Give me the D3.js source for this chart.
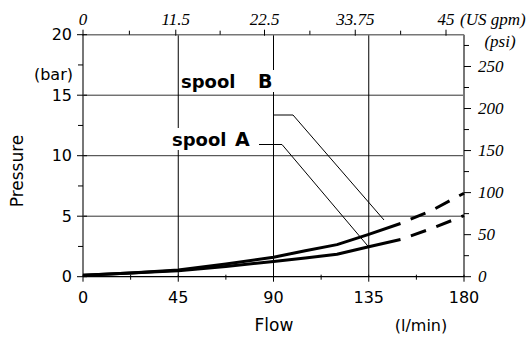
<!DOCTYPE html>
<html><head><meta charset="utf-8">
<script src="https://cdn.jsdelivr.net/npm/d3@7"></script>
<style>
body{margin:0;background:#fff;}
svg{display:block;}
.sans{font-family:"DejaVu Sans",Verdana,sans-serif;}
.ser{font-family:"Liberation Serif","Times New Roman",serif;font-style:italic;}
</style></head>
<body>
<svg id="c" width="532" height="338"></svg>
<script>
// ---- data ----
const flowTicks = [0, 45, 90, 135, 180];             // l/min
const flowMinor = [22.5, 67.5, 112.5, 157.5];
const barTicks = [0, 5, 10, 15, 20];
const barMinor = [2.5, 7.5, 12.5, 17.5];
const gpmTicks = [0, 11.5, 22.5, 33.75, 45];
const gpmMinor = [5.75, 17, 28.125, 39.375];
const psiTicks = [0, 50, 100, 150, 200, 250];
const psiMinor = [25, 75, 125, 175, 225, 275];
const flow   = [0, 22.5, 45, 67.5, 90, 105, 120, 135, 150, 165, 180];
const spoolA = [0.12, 0.3, 0.5, 0.85, 1.25, 1.55, 1.85, 2.48, 3.08, 4.0, 5.05];
const spoolB = [0.12, 0.3, 0.55, 1.05, 1.6, 2.15, 2.65, 3.5, 4.4, 5.5, 6.9];
const solidUntil = 150;

// ---- scales ----
const L = 83, R = 464, T = 34.7, B = 276.7;
const x = d3.scaleLinear([0, 180], [L, R]);
const y = d3.scaleLinear([0, 20], [B, T]);
const gpm = d3.scaleLinear([0, 45], [L, 446]);
const psi = d3.scaleLinear([0, 287.8], [B, T]);

const svg = d3.select("#c");

// gridlines
const grid = svg.append("g");
grid.selectAll(".hg").data([5, 10, 15]).join("line")
  .attr("x1", L).attr("x2", R).attr("y1", d => y(d)).attr("y2", d => y(d))
  .attr("stroke", "#333").attr("stroke-width", 1);
grid.selectAll(".vg").data([45, 90, 135]).join("line")
  .attr("x1", d => x(d)).attr("x2", d => x(d)).attr("y1", T).attr("y2", B)
  .attr("stroke", "#000").attr("stroke-width", 1);

// axes lines
svg.append("line").attr("x1", L).attr("x2", R).attr("y1", T).attr("y2", T).attr("stroke", "#777").attr("stroke-width", 1.5);
svg.append("line").attr("x1", L).attr("x2", L).attr("y1", T).attr("y2", B).attr("stroke", "#777").attr("stroke-width", 2);
svg.append("line").attr("x1", R).attr("x2", R).attr("y1", T).attr("y2", B).attr("stroke", "#777").attr("stroke-width", 2);
svg.append("line").attr("x1", L).attr("x2", R).attr("y1", B).attr("y2", B).attr("stroke", "#000").attr("stroke-width", 1.2);

function ticks(vals, f) {
  svg.append("g").selectAll("line").data(vals).join("line").each(function(d){
    const c = f(d); d3.select(this).attr("x1", c[0]).attr("y1", c[1]).attr("x2", c[2]).attr("y2", c[3]);
  }).attr("stroke", "#000").attr("stroke-width", 1);
}
// left
ticks(barTicks, d => [L - 6, y(d), L + 4, y(d)]);
ticks(barMinor, d => [L - 5, y(d), L, y(d)]);
// bottom
ticks(flowTicks, d => [x(d), B - 2, x(d), B + 5]);
ticks(flowMinor, d => [x(d), B - 2, x(d), B + 3]);
// top
ticks(gpmTicks, d => [gpm(d), T - 5, gpm(d), T + 1]);
ticks(gpmMinor, d => [gpm(d), T - 4, gpm(d), T]);
// right
ticks(psiTicks, d => [R, psi(d), R + 7, psi(d)]);
ticks(psiMinor, d => [R, psi(d), R + 5, psi(d)]);

// tick labels
svg.append("g").selectAll("text").data(barTicks).join("text").attr("class", "sans")
  .attr("x", 72).attr("y", d => y(d)).attr("dy", "0.36em").attr("text-anchor", "end")
  .attr("font-size", 16).text(d => d);
svg.append("g").selectAll("text").data(flowTicks).join("text").attr("class", "sans")
  .attr("x", d => x(d)).attr("y", 303).attr("text-anchor", "middle")
  .attr("font-size", 16).text(d => d);
svg.append("g").selectAll("text").data(gpmTicks).join("text").attr("class", "ser")
  .attr("x", d => gpm(d)).attr("y", 25).attr("text-anchor", "middle")
  .attr("font-size", 17).text(d => d);
svg.append("g").selectAll("text").data(psiTicks).join("text").attr("class", "ser")
  .attr("x", 478).attr("y", d => psi(d)).attr("dy", "0.34em")
  .attr("font-size", 17).text(d => d);

// axis titles
svg.append("text").attr("class", "ser").attr("x", 460).attr("y", 25).attr("font-size", 17).text("(US gpm)");
svg.append("text").attr("class", "ser").attr("x", 500).attr("y", 47).attr("text-anchor", "middle").attr("font-size", 17).text("(psi)");
svg.append("text").attr("class", "sans").attr("x", 73).attr("y", 80).attr("text-anchor", "end").attr("font-size", 16).text("(bar)");
svg.append("text").attr("class", "sans").attr("transform", "translate(23,171) rotate(-90)").attr("text-anchor", "middle").attr("font-size", 17).text("Pressure");
svg.append("text").attr("class", "sans").attr("x", 274).attr("y", 331).attr("text-anchor", "middle").attr("font-size", 17).text("Flow");
svg.append("text").attr("class", "sans").attr("x", 421).attr("y", 331).attr("text-anchor", "middle").attr("font-size", 16).text("(l/min)");

// curves
const line = d3.line().x(d => x(d[0])).y(d => y(d[1]));
[spoolA, spoolB].forEach(s => {
  const pts = flow.map((f, i) => [f, s[i]]);
  svg.append("path").attr("d", line(pts.filter(p => p[0] <= solidUntil)))
    .attr("fill", "none").attr("stroke", "#000").attr("stroke-width", 3).attr("stroke-linejoin", "round");
  svg.append("path").attr("d", line(pts.filter(p => p[0] >= solidUntil)))
    .attr("fill", "none").attr("stroke", "#000").attr("stroke-width", 3)
    .attr("stroke-dasharray", "16,11").attr("stroke-dashoffset", 16);
});

// labels with leaders
function label(tx, ty, letter, lx, pts) {
  const g = svg.append("g");
  const t = g.append("text").attr("class", "sans").attr("x", tx).attr("y", ty).attr("font-weight", "bold").attr("font-size", 18);
  t.append("tspan").text("spool");
  t.append("tspan").attr("x", lx).attr("font-size", 19).text(letter);
  const bb = t.node().getBBox();
  g.insert("rect", "text").attr("x", bb.x - 2).attr("y", bb.y).attr("width", bb.width + 4).attr("height", bb.height).attr("fill", "#fff");
  g.append("polyline").attr("points", pts.map(p => p.join(",")).join(" ")).attr("fill", "none").attr("stroke", "#000").attr("stroke-width", 1);
}
label(172, 146, "A", 235, [[259, 144.5], [282, 144.5], [x(135), y(2.45)]]);
label(181, 88, "B", 258, [[273, 115], [293, 115], [384, 220]]);
</script>
</body></html>
